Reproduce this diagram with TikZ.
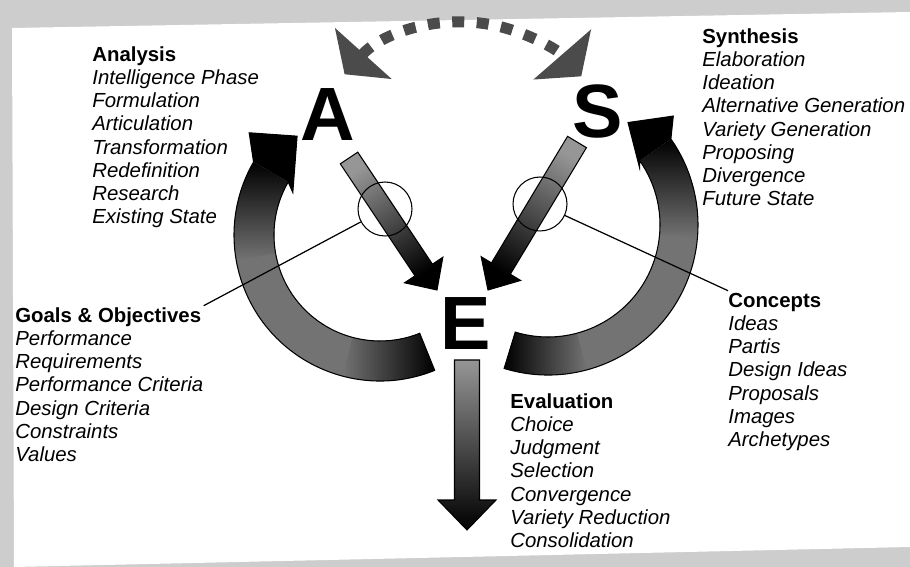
\documentclass[tikz,border=0pt]{standalone}
\usepackage{fontspec}
\setmainfont{Liberation Sans}
\usepackage{tikz}
\usetikzlibrary{arrows.meta, calc}
\definecolor{ScanGray} {RGB}{205, 205, 205}
\definecolor{BandGray} {RGB}{115, 115, 115}
\definecolor{TailGray} {RGB}{150, 150, 150}
\definecolor{DotGray}  {RGB}{75,  75,  75}

\begin{document}
\begin{tikzpicture}[
  x=0.02cm, y=-0.02cm,
  letter/.style = {inner sep=0pt, font=\fontsize{43}{43}\selectfont\bfseries},
  words/.style = {
    anchor=north west, align=left, inner sep=0pt,
    font=\fontsize{11.6}{13.2}\selectfont\itshape
  },
  ring/.style = {circle, draw, line width=0.6pt, minimum size=1.08cm, inner sep=0pt},
  leader/.style = {line width=0.7pt},
  outline/.style = {draw, line width=0.6pt},
  dotarc/.style = {
    line width=0.22cm, color=DotGray, dash pattern=on 0.24cm off 0.25cm,
    {Triangle[width=1.5cm, length=0.56cm]}-{Triangle[width=1.5cm, length=0.58cm]}
  },
  fatarrow/.style n args = {3}{to path={
    ($(\tikztostart)!#1!90:(\tikztotarget)$)
    -- ($(\tikztotarget)!#3!(\tikztostart)!#1!-90:(\tikztostart)$)
    -- ($(\tikztotarget)!#3!(\tikztostart)!#2!-90:(\tikztostart)$)
    -- (\tikztotarget)
    -- ($(\tikztotarget)!#3!(\tikztostart)!#2!90:(\tikztostart)$)
    -- ($(\tikztotarget)!#3!(\tikztostart)!#1!90:(\tikztostart)$)
    -- ($(\tikztostart)!#1!-90:(\tikztotarget)$) -- cycle}}
]

% scanned page
\fill[ScanGray] (0,0) rectangle (910,567);
\fill[white] (12,28) -- (910,12) -- (910,547) -- (14,567) -- cycle;
\useasboundingbox (0,0) rectangle (910,567);

% dotted arc between A and S
\coordinate (cT) at (462,180);
\coordinate (dL) at ($(cT)+(222:158)$);
\draw[dotarc] (dL) arc[start angle=222, end angle=319, radius=158];

% left arc (E -> A)
\coordinate (cL) at (380,235);
\fill[BandGray] ($(cL)+(68:146)$) arc[start angle=68, end angle=210, radius=146]
  -- ($(cL)+(210:106)$) arc[start angle=210, end angle=68, radius=106] -- cycle;
\shade[left color=BandGray, right color=black] ($(cL)+(68:146)$) arc[start angle=68, end angle=105, radius=146]
  -- ($(cL)+(105:106)$) arc[start angle=105, end angle=68, radius=106] -- cycle;
\shade[top color=black, bottom color=BandGray] ($(cL)+(170:146)$) arc[start angle=170, end angle=210, radius=146]
  -- ($(cL)+(210:106)$) arc[start angle=210, end angle=170, radius=106] -- cycle;
\fill[black] ($(cL)+(210:146)$) -- ($(cL)+(218:166)$) -- ($(cL)+(230:129)$)
  -- ($(cL)+(206:97)$) -- ($(cL)+(210:106)$) -- cycle;
\draw[outline] ($(cL)+(68:146)$) arc[start angle=68, end angle=210, radius=146]
  -- ($(cL)+(218:166)$) -- ($(cL)+(230:129)$) -- ($(cL)+(206:97)$)
  -- ($(cL)+(210:106)$) arc[start angle=210, end angle=68, radius=106] -- cycle;

% right arc (E -> S)
\coordinate (cR) at (548,225);
\fill[BandGray] ($(cR)+(107:150)$) arc[start angle=107, end angle=-35, radius=150]
  -- ($(cR)+(-35:112)$) arc[start angle=-35, end angle=107, radius=112] -- cycle;
\shade[left color=black, right color=BandGray] ($(cR)+(107:150)$) arc[start angle=107, end angle=75, radius=150]
  -- ($(cR)+(75:112)$) arc[start angle=75, end angle=107, radius=112] -- cycle;
\shade[top color=black, bottom color=BandGray] ($(cR)+(5:150)$) arc[start angle=5, end angle=-35, radius=150]
  -- ($(cR)+(-35:112)$) arc[start angle=-35, end angle=5, radius=112] -- cycle;
\fill[black] ($(cR)+(-35:150)$) -- ($(cR)+(-41:166)$) -- ($(cR)+(-52:130)$)
  -- ($(cR)+(-32:108)$) -- ($(cR)+(-35:112)$) -- cycle;
\draw[outline] ($(cR)+(107:150)$) arc[start angle=107, end angle=-35, radius=150]
  -- ($(cR)+(-41:166)$) -- ($(cR)+(-52:130)$) -- ($(cR)+(-32:108)$)
  -- ($(cR)+(-35:112)$) arc[start angle=-35, end angle=107, radius=112] -- cycle;

% straight arrows into and out of E
\coordinate (aT) at (349,158);
\coordinate (aH) at (437,290);
\coordinate (sT) at (577,142);
\coordinate (sH) at (488,290);
\coordinate (eT) at (467,360);
\coordinate (eH) at (467,530);

\path[fatarrow={0.21cm}{0.46cm}{0.48cm}, outline,
  top color=TailGray, bottom color=black, shading angle=34] (aT) to (aH);
\path[fatarrow={0.22cm}{0.46cm}{0.5cm}, outline,
  top color=TailGray, bottom color=black, shading angle=-31] (sT) to (sH);
\path[fatarrow={0.25cm}{0.58cm}{0.6cm}, outline,
  top color=TailGray, bottom color=black] (eT) to (eH);

% letters
\node[letter] (A) at (328,115) {A};
\node[letter] (S) at (598,111) {S};
\node[letter] (E) at (466,324) {E};

% lists
\node[words] (analysis) at (92,44.7)
  {{\upshape\bfseries\strut Analysis}\\Intelligence Phase\\Formulation\\Articulation\\
   Transformation\\Redefinition\\Research\\Existing State};
\node[words] (synthesis) at (702,26.7)
  {{\upshape\bfseries\strut Synthesis}\\Elaboration\\Ideation\\Alternative Generation\\
   Variety Generation\\Proposing\\Divergence\\Future State};
\node[words] (goals) at (15,305.7)
  {{\upshape\bfseries\strut Goals \& Objectives}\\Performance\\Requirements\\
   Performance Criteria\\Design Criteria\\Constraints\\Values};
\node[words] (concepts) at (728,290.7)
  {{\upshape\bfseries\strut Concepts}\\Ideas\\Partis\\Design Ideas\\Proposals\\Images\\Archetypes};
\node[words] (evaluation) at (510,391.7)
  {{\upshape\bfseries\strut Evaluation}\\Choice\\Judgment\\Selection\\Convergence\\
   Variety Reduction\\Consolidation};

% circles and leaders
\node[ring] (lcirc) at (385,209) {};
\node[ring] (rcirc) at (540,204) {};
\draw[leader] (lcirc) -- (goals.north east);
\draw[leader] (rcirc) -- (concepts.north west);

\end{tikzpicture}
\end{document}
